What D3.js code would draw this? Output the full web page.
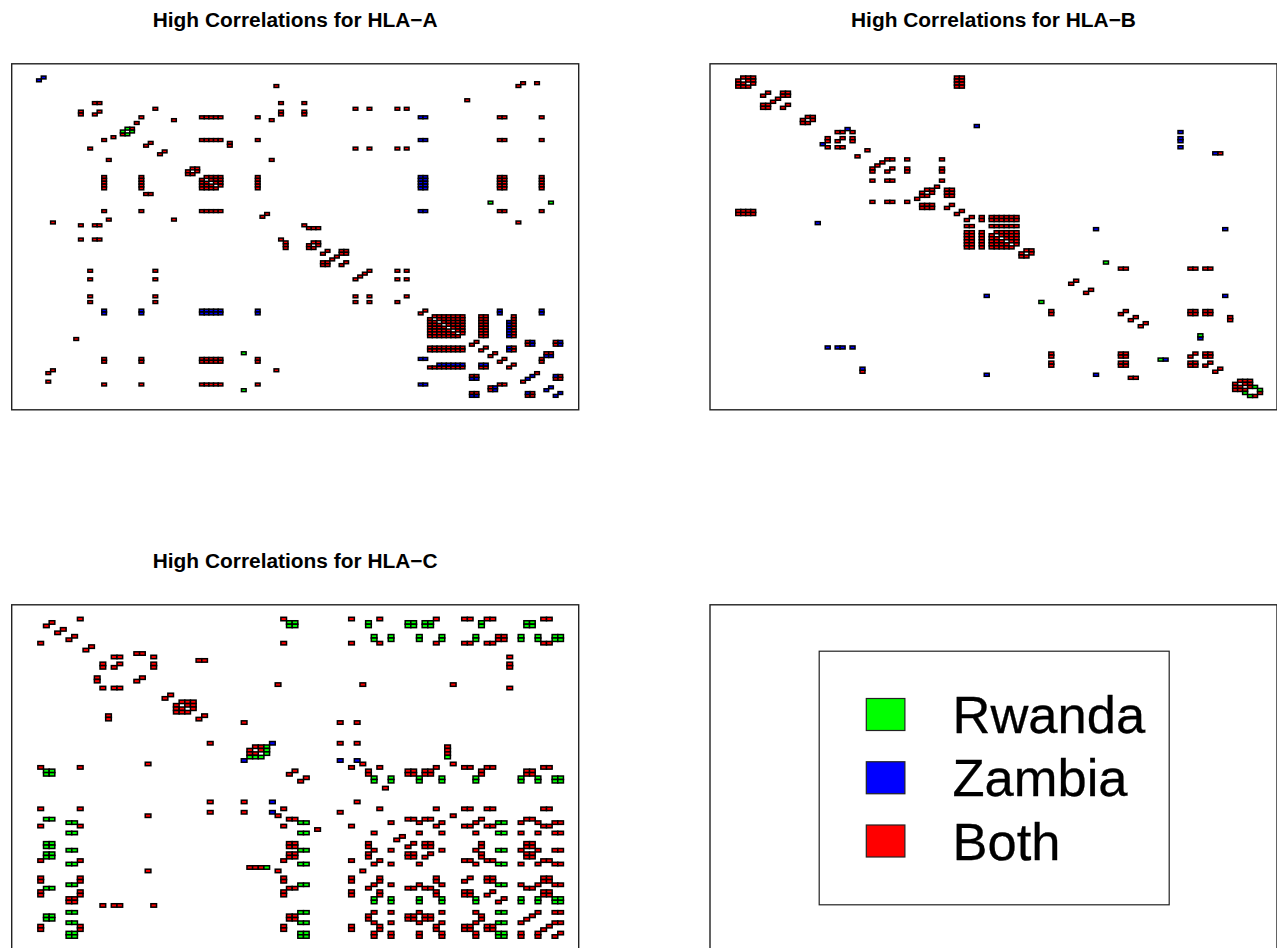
<!DOCTYPE html>
<html lang="en">
  <head>
    <meta charset="UTF-8" />
    <title>High Correlations</title>
    <style type="text/css">
      html,
      body {
        margin: 0;
        background: #fff;
        overflow: hidden;
      }
      text {
        font-family: "Liberation Sans", Arial, sans-serif;
      }
    </style>
  </head>
  <body>
    <div id="chart"></div>
    <script src="https://d3js.org/d3.v7.min.js"></script>
    <script>
      // cells, upper triangle only as "rows:columns"
      const hlaABoth = [
        "7:109,112", "8:56,108", "13:97", "14:17,18,57,62", "16:30,73,76,82,84",
        "17:18,57,62", "18:57,62", "19:27,40-44,52,104,105,113", "20:34,55", "21:26",
        "23:25", "27:40-44,52,104,105,113", "28:29,46", "29:46", "30:73,76,82,84",
        "31:32", "34:55", "37:38,39", "38:39", "40-44:40-44,52,104,105,113",
        "52:104,105,113", "53:54", "56:108", "57:62", "58:63-65", "63:64,65", "64:65",
        "66:67,70,71", "67:70,71", "68:69", "70:71", "73:76,82,84", "74:75", "76:82,84",
        "82:84", "87:88", "89-96:89-96,100,101,107", "98-99:99,110,116", "100:101,107",
        "101:107", "102:103,114,115", "104:105,113", "105:113", "106:107", "109:112",
        "110:117", "111:116,117",
      ];
      const hlaABlue = [
        "5:6", "19:87,88", "27:87,88", "40-44:87,88", "52:87,88", "87-88:104,113",
        "91-96:106", "98-99:111,117", "100-101:106", "103:114,115", "110:111,116",
        "114:115", "116:117",
      ];
      const hlaAGreen = ["23:24", "24:25", "49:102,115"];

      const hlaBBoth = [
        "5-8:5-8,49,50", "10:11", "10-11:14,15", "12:13", "14:15", "18-20:18-20",
        "23:25,26,28", "25:26,28", "26:28", "29:31", "30:102", "32:35,36,39,46", "33:34",
        "35:36", "35-36:39,46", "39:46", "41:45", "42-44:42-44,47,48", "47:48", "49:50",
        "51:52", "51-52:54,56-61", "54:56-61", "56-61:56-61", "62-64:62-64",
        "68:82,83,96,97,99,100", "72:73", "75:76", "82:83", "82-83:96,97,99,100", "84:85",
        "84-85:104", "86:87", "96:97", "96-97:99,100", "99:100", "101:102",
        "105-108:105-108", "109:110",
      ];
      const hlaBBlue = [
        "21:53", "22:27", "23:94", "25-26:94", "28:94", "30:101", "55:77,103", "77:103",
        "91:98",
      ];
      const hlaBGreen = ["66:79", "90:98", "107:109", "108:110"];

      const hlaCBoth = [
        "4:11,47,59,64,74,79,80,83,84,93,94", "5:6", "7:8", "9:10", "9-10:85,86",
        "11:47,59,64,74,79,80,83,84,93,94", "12:13", "14:21,22", "15:17,18,24,87",
        "16:32,33", "17:18,24,87", "18:24,87", "21:22", "23:46,61,77", "24:87", "26:27",
        "28-31:28-31", "32:33", "34:40,57,60", "40:57,60", "41:42,43,76", "42:43,76",
        "43:76", "46:61,77", "47:59,64,74,79,80,83,84,93,94", "48:49",
        "48-49:62,69,70,72,73,82,90,91", "50:51", "53:65", "57:60",
        "59:64,74,79,80,83,84,93,94", "61:77", "62:69,70,72,73,82,90,91",
        "63:66,71,75,81,89,92,95,96", "64:74,79,80,83,84,93,94",
        "66:71,75,81,89,92,95,96", "67:68", "69:70", "69-70:72,73,82,90,91",
        "71:75,81,89,92,95,96", "72:73", "72-73:82,90,91", "74:79,80,83,84,93,94",
        "75:81,89,92,95,96", "79:80", "79-80:83,84,93,94", "81:89,92,95,96", "82:90,91",
        "83:84", "83-84:93,94", "85:86", "89:92,95,96", "90:91", "92:95,96", "93:94",
        "95:96",
      ];
      const hlaCBlue = ["40:45", "45:57,60"];
      const hlaCGreen = [
        "5-6:48,49,62,69,70,72,73,82,90,91", "9-10:63,66,71,75,81,89,92,95,96",
        "41:44", "42:44", "43:44", "44:76", "50-51:63,66,71,75,81,89,92,95,96",
        "63:85,86", "66:85,86", "71:85,86", "75:85,86", "81:85,86", "85-86:89,92,95,96",
      ];

      const legendLabels = ["Rwanda", "Zambia", "Both"];
      const legendColors = ["#00ff00", "#0000ff", "#ff0000"];

      const svg = d3
        .select("#chart")
        .append("svg")
        .attr("width", 1277)
        .attr("height", 948)
        .style("display", "block");

      // the reference is a slightly soft raster, a small blur gets the same look
      svg
        .append("defs")
        .append("filter")
        .attr("id", "soft")
        .append("feGaussianBlur")
        .attr("stdDeviation", 0.3);

      const plotHeight = 346;

      // "40-44:52,60-61" -> every row/col pair, mirrored, diagonal left out
      function expand(spec) {
        const nums = (s) =>
          s.split(",").flatMap((p) => {
            const ends = p.split("-").map(Number);
            return d3.range(ends[0], (ends[1] || ends[0]) + 1);
          });
        const parts = spec.split(":");
        return nums(parts[0]).flatMap((r) =>
          nums(parts[1])
            .filter((c) => c !== r)
            .flatMap((c) => [
              { r: r, c: c },
              { r: c, c: r },
            ])
        );
      }

      function drawPanel(p) {
        const g = svg
          .append("g")
          .attr("transform", "translate(" + p.left + "," + p.top + ")");

        const x = d3.scaleLinear().domain(p.xDomain).range([0, p.width]);
        const y = d3.scaleLinear().domain(p.yDomain).range([0, plotHeight]);

        const cells = new Map();
        p.groups.forEach((group) => {
          group.specs.flatMap(expand).forEach((d) => {
            cells.set(d.r + "_" + d.c, { r: d.r, c: d.c, fill: group.fill });
          });
        });

        g.append("g")
          .attr("filter", "url(#soft)")
          .selectAll(".cell")
          .data(Array.from(cells.values()))
          .enter()
          .append("rect")
          .attr("class", "cell")
          .attr("x", (d) => x(d.c - 0.5))
          .attr("y", (d) => y(d.r - 0.5))
          .attr("width", (d) => x(d.c + 0.5) - x(d.c - 0.5))
          .attr("height", (d) => y(d.r + 0.5) - y(d.r - 0.5))
          .attr("fill", (d) => d.fill)
          .attr("stroke", "#000")
          .attr("stroke-width", 1.5);

        g.append("rect")
          .attr("width", p.width)
          .attr("height", plotHeight)
          .attr("fill", "none")
          .attr("stroke", "#222")
          .attr("stroke-width", 1.4);

        svg
          .append("text")
          .attr("x", p.left + 283.5)
          .attr("y", p.top - 36.6)
          .attr("text-anchor", "middle")
          .attr("font-size", "20.9px")
          .attr("font-weight", "bold")
          .attr("fill", "#000")
          .text(p.title);
      }

      drawPanel({
        title: "High Correlations for HLA\u2212A",
        left: 11.7,
        top: 63.8,
        width: 567,
        xDomain: [-0.86, 120.95],
        yDomain: [0.18, 121.9],
        groups: [
          { specs: hlaABoth, fill: "#ff0000" },
          { specs: hlaABlue, fill: "#0000ff" },
          { specs: hlaAGreen, fill: "#00ff00" },
        ],
      });
      drawPanel({
        title: "High Correlations for HLA\u2212B",
        left: 710,
        top: 63.8,
        width: 567,
        xDomain: [-0.69, 113.42],
        yDomain: [0.48, 114.55],
        groups: [
          { specs: hlaBBoth, fill: "#ff0000" },
          { specs: hlaBBlue, fill: "#0000ff" },
          { specs: hlaBGreen, fill: "#00ff00" },
        ],
      });
      drawPanel({
        title: "High Correlations for HLA\u2212C",
        left: 11.7,
        top: 604.8,
        width: 567,
        xDomain: [-1.13, 99.2],
        yDomain: [-0.12, 100.14],
        groups: [
          { specs: hlaCBoth, fill: "#ff0000" },
          { specs: hlaCBlue, fill: "#0000ff" },
          { specs: hlaCGreen, fill: "#00ff00" },
        ],
      });

      // legend panel, empty plot frame with the key inside
      svg
        .append("rect")
        .attr("x", 710)
        .attr("y", 604.8)
        .attr("width", 567)
        .attr("height", plotHeight)
        .attr("fill", "none")
        .attr("stroke", "#222")
        .attr("stroke-width", 1.4);

      svg
        .append("rect")
        .attr("x", 819.2)
        .attr("y", 651.2)
        .attr("width", 350)
        .attr("height", 253.6)
        .attr("fill", "none")
        .attr("stroke", "#222")
        .attr("stroke-width", 1.2);

      const legendY = d3.scalePoint().domain(legendLabels).range([714.5, 841]);

      svg
        .selectAll(".swatch")
        .data(legendLabels)
        .enter()
        .append("rect")
        .attr("class", "swatch")
        .attr("x", 866.3)
        .attr("y", (d) => legendY(d) - 16)
        .attr("width", 38.6)
        .attr("height", 32)
        .attr("fill", (d, i) => legendColors[i])
        .attr("stroke", "#222")
        .attr("stroke-width", 1.2);

      svg
        .selectAll(".label")
        .data(legendLabels)
        .enter()
        .append("text")
        .attr("class", "label")
        .attr("x", 952.5)
        .attr("y", (d) => legendY(d) + 18.5)
        .attr("font-size", "52.5px")
        .attr("fill", "#000")
        .attr("stroke", "#000")
        .attr("stroke-width", 0.3)
        .text((d) => d);
    </script>
  </body>
</html>
